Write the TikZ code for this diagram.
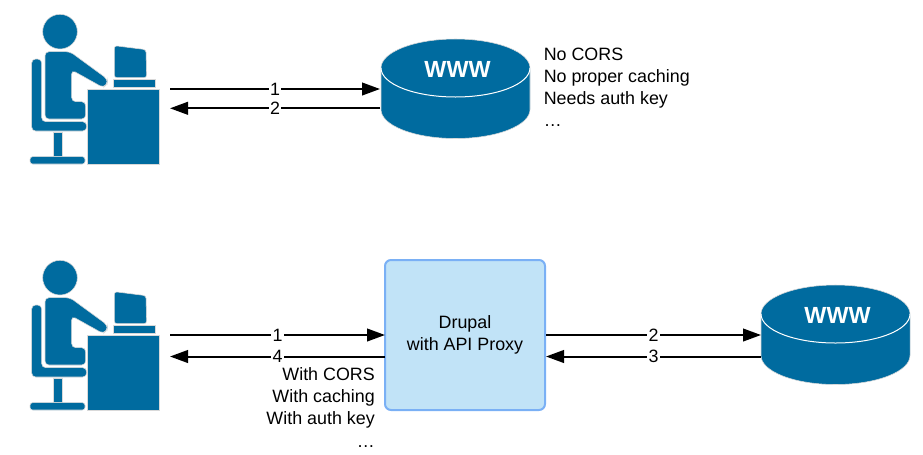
\documentclass[tikz,border=0pt]{standalone}
\usepackage{fontspec}
\setmainfont{Liberation Sans}
\usepackage{xcolor}
\usetikzlibrary{arrows.meta}
\definecolor{iconblue}{HTML}{006B9F}
\definecolor{boxfill}{HTML}{C1E3F7}
\definecolor{boxline}{HTML}{7AB0F5}
\tikzset{
  plain/.style={font=\fontsize{13.4}{16.6}\selectfont, text=black, inner sep=0pt},
  numlabel/.style={plain, fill=white, inner sep=1pt},
  flow/.style={-{Triangle[length=13.5pt,width=9.5pt]}, line width=1.5pt, black},
  iconpart/.style={fill=iconblue, draw=white!85!black, line width=.4pt},
  deskuser/.pic={
    \begin{scope}[scale=1/3, every path/.style={iconpart}]
    \fill (120,80) circle (52);
    \path[rounded corners=3pt] (75,342) -- (75,140) -- (150,140) -- (262,222) -- (262,236) -- (250,248) -- (155,195) -- (155,290) -- (197,290) -- (197,342) -- cycle;
    \path[rounded corners=3pt] (35,378) -- (35,162) -- (65,162) -- (65,350) -- (200,350) -- (200,378) -- cycle;
    \path (100,382) rectangle (128,455);
    \path[rounded corners=2pt] (30,477) -- (30,455) -- (195,455) -- (195,477) -- cycle;
    \path (203,252) rectangle (418,477);
    \path[rounded corners=2pt] (283,122) -- (378,134) -- (380,218) -- (283,218) -- cycle;
    \path (280,222) rectangle (405,247);
    \end{scope}
  },
  wwwdisk/.pic={
    \path[iconpart] (-74.5,0) -- (-74.5,41.5) arc[start angle=180, end angle=0, x radius=74.5, y radius=29] -- (74.5,0) arc[start angle=0, end angle=-180, x radius=74.5, y radius=29] -- cycle;
    \draw[white, line width=.75pt] (-74.5,0) arc[start angle=180, end angle=0, x radius=74.5, y radius=29];
    \node[font=\fontsize{17.5}{20}\bfseries\selectfont, text=white] (-label) at (2,1) {WWW};
  }
}
\begin{document}
\begin{tikzpicture}[x=0.75pt, y=-0.75pt]
\useasboundingbox (0,0) rectangle (923,454);

% top row
\pic (usera) at (20,5) {deskuser};
\pic (wwwa) at (455.5,68) {wwwdisk};

\coordinate (a1) at (170,89);
\coordinate (a2) at (380,89);
\coordinate (a3) at (380,108.3);
\coordinate (a4) at (170,108.3);
\draw[flow] (a1) -- node[numlabel] (na1) {1} (a2);
\draw[flow] (a3) -- node[numlabel] (na2) {2} (a4);

\node[plain, align=left, anchor=north west] (notes) at (543.5,47.5) {No CORS\\No proper caching\\Needs auth key\\…};

% bottom row
\pic (userb) at (20,251) {deskuser};
\node[plain, align=center, draw=boxline, fill=boxfill, line width=1.5pt, rounded corners=4.5pt, minimum width=120pt, minimum height=112.5pt] (proxy) at (465,335) {Drupal\\with API Proxy};
\pic (wwwb) at (835.5,314) {wwwdisk};

\coordinate (b1) at (170,335);
\coordinate (b2) at (385,335);
\coordinate (b3) at (385,356.5);
\coordinate (b4) at (170,356.5);
\coordinate (c1) at (546,335);
\coordinate (c2) at (761,335);
\coordinate (c3) at (761,356.5);
\coordinate (c4) at (546,356.5);
\draw[flow] (b1) -- node[numlabel] (nb1) {1} (b2);
\draw[flow] (b3) -- node[numlabel] (nb4) {4} (b4);
\draw[flow] (c1) -- node[numlabel] (nc2) {2} (c2);
\draw[flow] (c3) -- node[numlabel] (nc3) {3} (c4);

\node[plain, align=right, anchor=north east] (withs) at (375,367.5) {With CORS\\With caching\\With auth key\\…};

\end{tikzpicture}
\end{document}
